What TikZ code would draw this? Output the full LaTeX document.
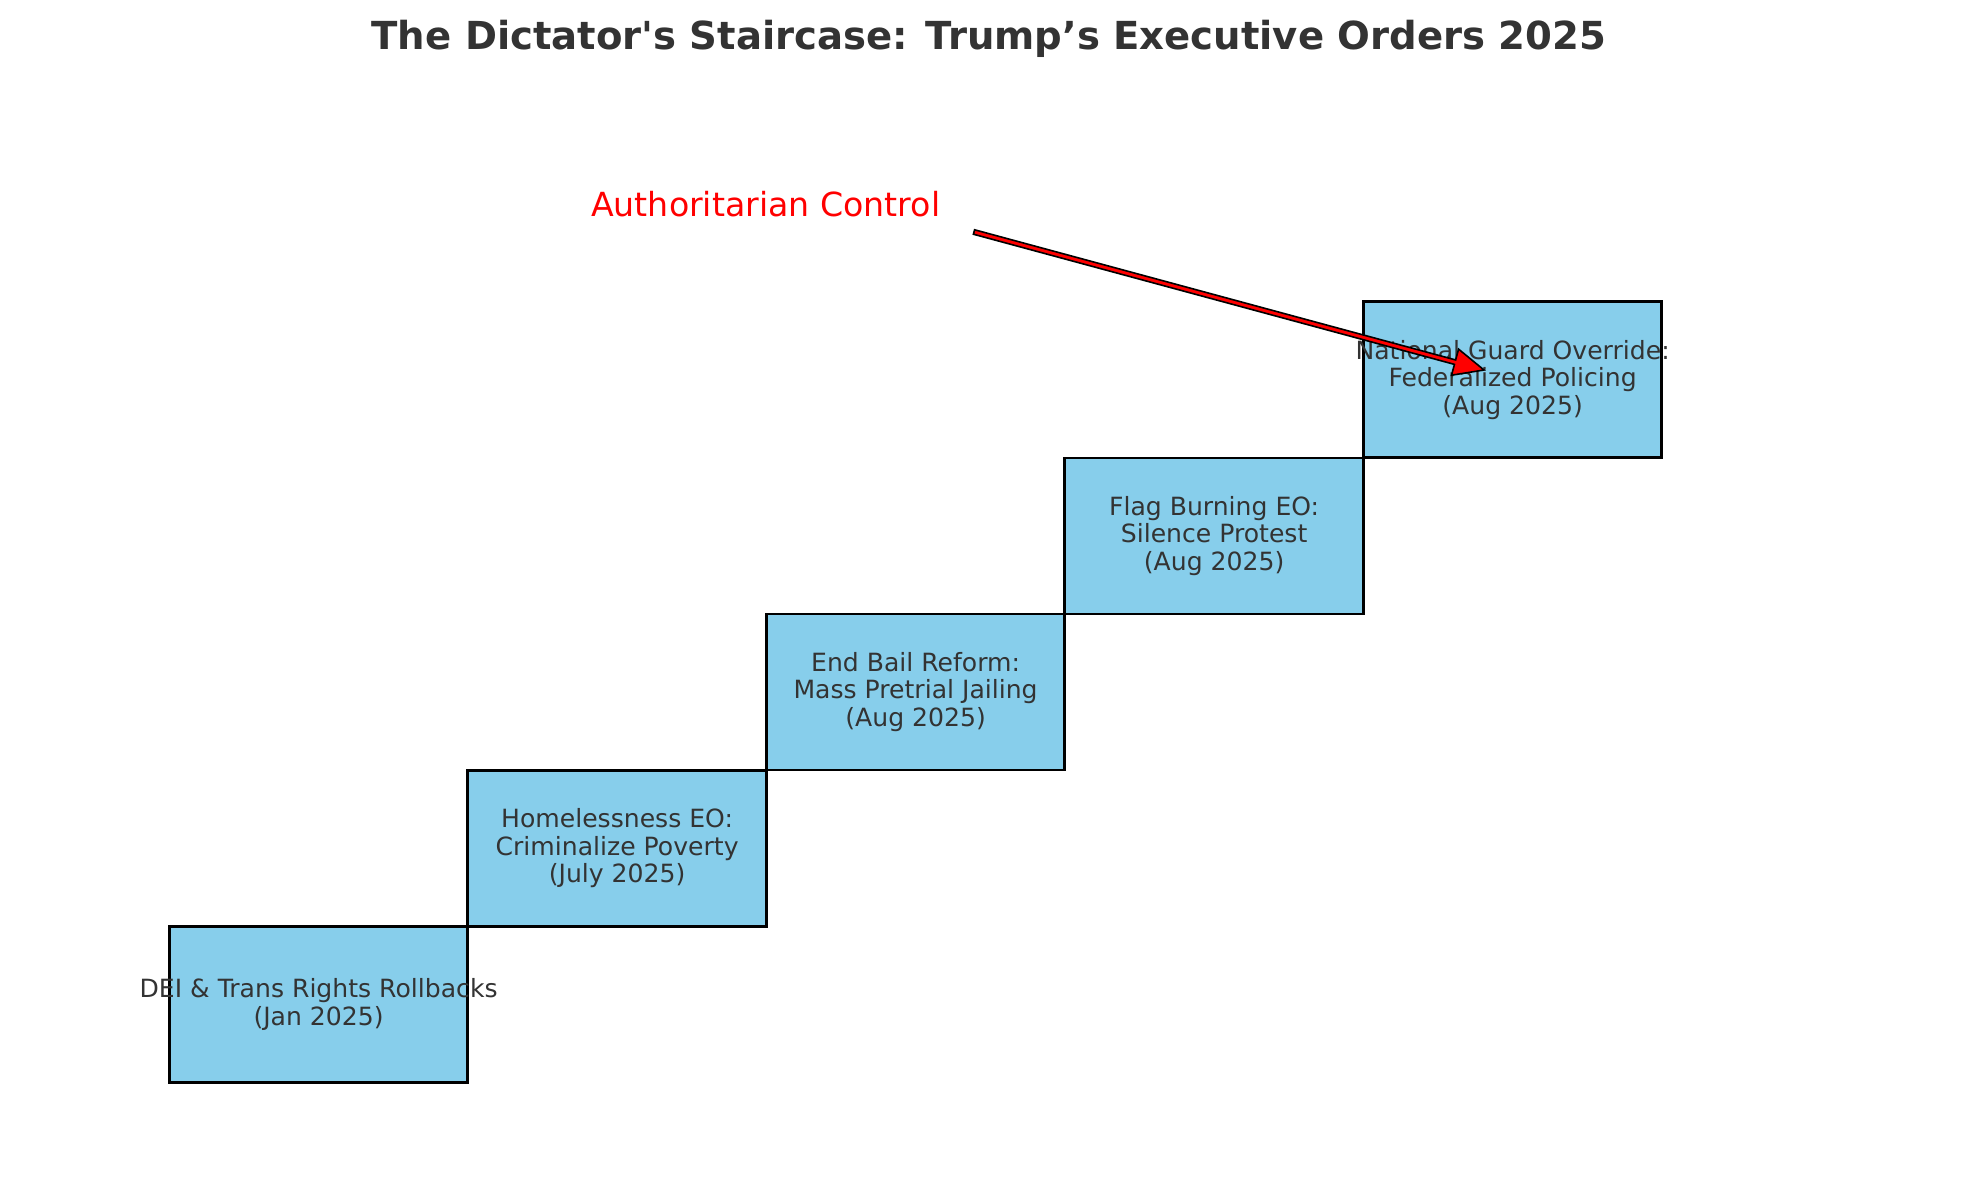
\documentclass[tikz,border=0pt]{standalone}
\usepackage{fontspec}
\setmainfont{DejaVu Sans}[Ligatures=TeXOff]
\usetikzlibrary{calc}
\definecolor{skyfill}{HTML}{87CEEB}
\definecolor{txtgray}{HTML}{333333}
\tikzset{
  stepbox/.style={draw=black, fill=skyfill, line width=2.8pt, rectangle,
    minimum width=298.5pt, minimum height=156pt, inner sep=0pt},
  steptext/.style={text=txtgray, align=center, inner sep=0pt,
    font=\fontsize{25.1pt}{27.6pt}\selectfont},
}
\begin{document}
\begin{tikzpicture}[x=1pt, y=-1pt]
\useasboundingbox[fill=white] (0,0) rectangle (1979,1180);

\node[text=txtgray, font=\fontsize{38.6pt}{44pt}\selectfont\bfseries] (title) at (989,39) {The Dictator's Staircase: Trump’s Executive Orders 2025};

\node[stepbox] (b1) at (318.6,1004.2) {};
\node[stepbox] (b2) at (617.1,848.1) {};
\node[stepbox] (b3) at (915.6,692.0) {};
\node[stepbox] (b4) at (1214.1,535.9) {};
\node[stepbox] (b5) at (1512.6,379.8) {};

\node[steptext] (t1) at (b1.center) {DEI \& Trans Rights Rollbacks\\(Jan 2025)};
\node[steptext] (t2) at (b2.center) {Homelessness EO:\\Criminalize Poverty\\(July 2025)};
\node[steptext] (t3) at (b3.center) {End Bail Reform:\\Mass Pretrial Jailing\\(Aug 2025)};
\node[steptext] (t4) at (b4.center) {Flag Burning EO:\\Silence Protest\\(Aug 2025)};
\node[steptext] (t5) at (b5.center) {National Guard Override:\\Federalized Policing\\(Aug 2025)};

\node[text=red, anchor=west, inner sep=0pt, font=\fontsize{33.2pt}{38pt}\selectfont] (ann) at (591,204.5) {Authoritarian Control};

\coordinate (as) at (974,232);
\coordinate (at) at (1484,370);
\coordinate (hb) at ($(at)!30pt!(as)$);
\filldraw[fill=red, draw=black, line width=1.6pt, line join=miter]
  ($(as)!2.3pt!90:(at)$) -- ($(hb)!2.3pt!-90:(as)$) -- ($(hb)!13.5pt!-90:(as)$)
  -- (at) -- ($(hb)!13.5pt!90:(as)$) -- ($(hb)!2.3pt!90:(as)$)
  -- ($(as)!2.3pt!-90:(at)$) -- cycle;
\end{tikzpicture}
\end{document}
